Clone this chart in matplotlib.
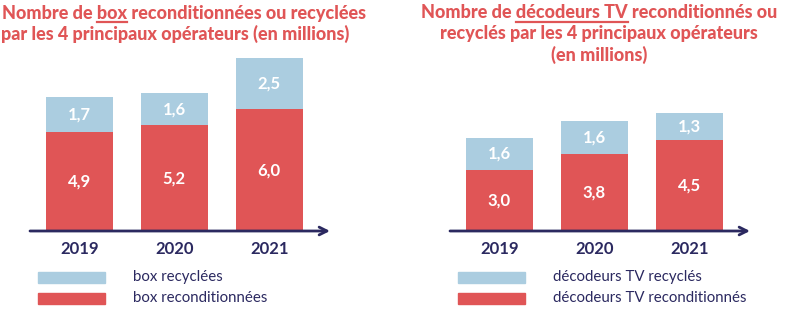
import matplotlib
matplotlib.use("Agg")
import matplotlib.pyplot as plt

# data
years = ["2019", "2020", "2021"]
box_recond = [4.9, 5.2, 6.0]
box_recyc = [1.7, 1.6, 2.5]
dec_recond = [3.0, 3.8, 4.5]
dec_recyc = [1.6, 1.6, 1.3]

RED = "#e05556"
BLUE = "#abcde0"
NAVY = "#2b2960"
W, H = 787, 321

plt.rcParams["font.family"] = ["Lato", "DejaVu Sans"]

fig = plt.figure(figsize=(W / 100, H / 100), dpi=100)
renderer = fig.canvas.get_renderer()


def fx(px):
    return px / W


def fy(py):
    return 1 - py / H


def text_width(s, **kw):
    t = fig.text(0, 0, s, **kw)
    w = t.get_window_extent(renderer).width
    t.remove()
    return w


def title_line(x, y, parts, ha="left", **kw):
    # parts: list of (text, underline)
    full = "".join(p for p, _ in parts)
    total = text_width(full, **kw)
    x0 = x if ha == "left" else x - total / 2
    fig.text(fx(x0), fy(y), full, va="center", ha="left", **kw)
    prefix = ""
    for p, ul in parts:
        if ul:
            start = text_width(prefix + p, **kw) - text_width(p, **kw)
            end = text_width(prefix + p, **kw)
            fig.add_artist(plt.Line2D([fx(x0 + start), fx(x0 + end)],
                                      [fy(y + 9), fy(y + 9)],
                                      color=kw.get("color"), lw=1.6,
                                      transform=fig.transFigure))
        prefix += p


def draw_panel(left_px, recond, recyc, labels):
    base = 231
    ax = fig.add_axes([fx(left_px), fy(base), fx(300), 200 / H])
    x = range(len(years))
    ax.bar(x, recond, width=0.705, color=RED)
    ax.bar(x, recyc, bottom=recond, width=0.705, color=BLUE)
    for i in x:
        ax.text(i, recond[i] / 2, f"{recond[i]:.1f}".replace(".", ","),
                ha="center", va="center", color="white",
                fontsize=12, fontweight="bold")
        ax.text(i, recond[i] + recyc[i] / 2, f"{recyc[i]:.1f}".replace(".", ","),
                ha="center", va="center", color="white",
                fontsize=12, fontweight="bold")
        ax.text(i, -0.88, years[i], ha="center", va="center", color=NAVY,
                fontsize=12, fontweight="bold")
    ax.set_xlim(-0.52, 2.64)
    ax.set_ylim(0, 200 / 20.3)
    ax.axis("off")
    ax.annotate("", xy=(1.0, 0), xytext=(0, 0), xycoords="axes fraction",
                arrowprops=dict(arrowstyle="->", color=NAVY, lw=2,
                                mutation_scale=14, shrinkA=0, shrinkB=0),
                annotation_clip=False)

    # legend
    lx = left_px + 8
    for j, (col, lab) in enumerate([(BLUE, labels[0]), (RED, labels[1])]):
        y = 277 + j * 21
        fig.add_artist(plt.Rectangle((fx(lx), fy(y + 6)), fx(67), 11 / H,
                                     color=col, transform=fig.transFigure))
        fig.text(fx(lx + 95), fy(y), lab, va="center", ha="left",
                 color=NAVY, fontsize=10.8)


draw_panel(30, box_recond, box_recyc, ["box recyclées", "box reconditionnées"])
draw_panel(450, dec_recond, dec_recyc,
           ["décodeurs TV recyclés", "décodeurs TV reconditionnés"])

tkw = dict(color=RED, fontsize=13, fontweight="black")
title_line(2, 13, [("Nombre de ", False), ("box", True),
                   (" reconditionnées ou recyclées", False)], **tkw)
title_line(1, 34, [("par les 4 principaux opérateurs (en millions)", False)], **tkw)
title_line(599, 13, [("Nombre de ", False), ("décodeurs TV", True),
                     (" reconditionnés ou", False)], ha="center", **tkw)
title_line(599, 34, [("recyclés par les 4 principaux opérateurs", False)],
           ha="center", **tkw)
title_line(599, 55, [("(en millions)", False)], ha="center", **tkw)

fig.savefig("out.png", dpi=100)
